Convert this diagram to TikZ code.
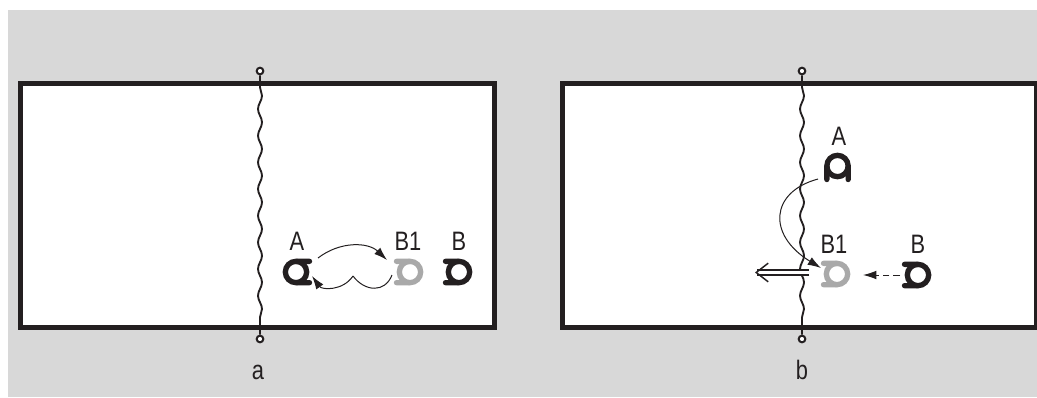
\documentclass[tikz,border=0pt]{standalone}
\usepackage{fontspec}
\setmainfont{Liberation Sans}[FakeStretch=0.82]
\usetikzlibrary{arrows.meta,decorations.pathmorphing}
\definecolor{bgg}{HTML}{D8D8D8}
\definecolor{ink}{HTML}{231F20}
\definecolor{lg}{HTML}{A9A9A9}
\tikzset{
 x=0.75pt,y=-0.75pt,
 panel/.style={draw=ink,line width=3.75pt,fill=white},
 wavy/.style={draw=ink,line width=1.4pt,decorate,decoration={snake,amplitude=1.5pt,segment length=20pt,pre length=9pt,post length=4pt}},
 pin/.style={circle,draw=ink,fill=white,line width=1.5pt,inner sep=0pt,minimum size=5pt},
 lab/.style={font=\fontsize{20}{20}\selectfont,text=ink,inner sep=0pt,anchor=base},
 thin arrow/.style={draw=ink,line width=0.75pt,-{Latex[length=10pt,width=6.5pt]}},
 thin line/.style={draw=ink,line width=0.75pt},
 clip glyph/.pic={\draw[line width=4pt,line cap=round,pic actions] (13.5,-10.67) -- (0,-10.67) arc[start angle=90,end angle=270,radius=8pt] -- (13.5,10.67);
   \draw[line width=4pt,pic actions] (0,-10.67) arc[start angle=90,end angle=-90,radius=8pt];},
}
\begin{document}
\begin{tikzpicture}
\useasboundingbox (0,0) rectangle (1037,397);
\fill[bgg] (8,10) rectangle (1037,397);
\draw[panel] (20.5,83.5) rectangle (494.5,327.5);
\draw[panel] (562.5,83.5) rectangle (1036,327.5);
\node[pin] (at) at (260,71) {};
\node[pin] (ab) at (260,339) {};
\node[pin] (bt) at (802,71) {};
\node[pin] (bb) at (802,339) {};
\draw[wavy] (at) -- (ab);
\draw[wavy] (bt) -- (bb);
% panel a
\coordinate (aA) at (296,272);
\coordinate (aB1) at (410,272);
\coordinate (aB) at (459,272);
\pic[draw=ink] at (aA) {clip glyph};
\pic[draw=lg,rotate=180] at (aB1) {clip glyph};
\pic[draw=ink,rotate=180] at (aB) {clip glyph};
\node[lab] (laA) at (297,250) {A};
\node[lab] (laB1) at (408,250) {B1};
\node[lab] (laB) at (459,250) {B};
\coordinate (a1s) at (318,258);
\coordinate (a1e) at (387,260);
\coordinate (a2s) at (392,275);
\coordinate (amid) at (353,276);
\coordinate (a2e) at (312,276);
\draw[thin arrow] (a1s) .. controls (340,241) and (368,242) .. (a1e);
\draw[thin line] (a2s) .. controls (385,293) and (365,292) .. (amid);
\draw[thin arrow] (amid) .. controls (343,291) and (322,290) .. (a2e);
\node[lab] (la) at (258,379) {a};
% panel b
\coordinate (bA) at (837.5,166);
\coordinate (bB1) at (837,274);
\coordinate (bB) at (918,275);
\pic[draw=ink,rotate=-90] at (bA) {clip glyph};
\pic[draw=lg,rotate=180] at (bB1) {clip glyph};
\pic[draw=ink,rotate=180] at (bB) {clip glyph};
\node[lab] (lbA) at (839,145) {A};
\node[lab] (lbB1) at (834,253) {B1};
\node[lab] (lbB) at (918,253) {B};
\coordinate (b1s) at (818,179);
\coordinate (b1e) at (821,268);
\draw[thin arrow] (b1s) .. controls (770,192) and (767,235) .. (b1e);
\coordinate (dashs) at (900,275);
\coordinate (dashe) at (863,275);
\draw[thin arrow,dash pattern=on 5pt off 3pt] (dashs) -- (dashe);
\coordinate (ds) at (809,272.5);
\coordinate (de) at (755,272.5);
\draw[draw=ink,line width=1.1pt,double=white,double distance=2.6pt,-{Straight Barb[length=9pt,width=14pt]}] (ds) -- (de);
\node[lab] (lb) at (802,379) {b};
\end{tikzpicture}
\end{document}
